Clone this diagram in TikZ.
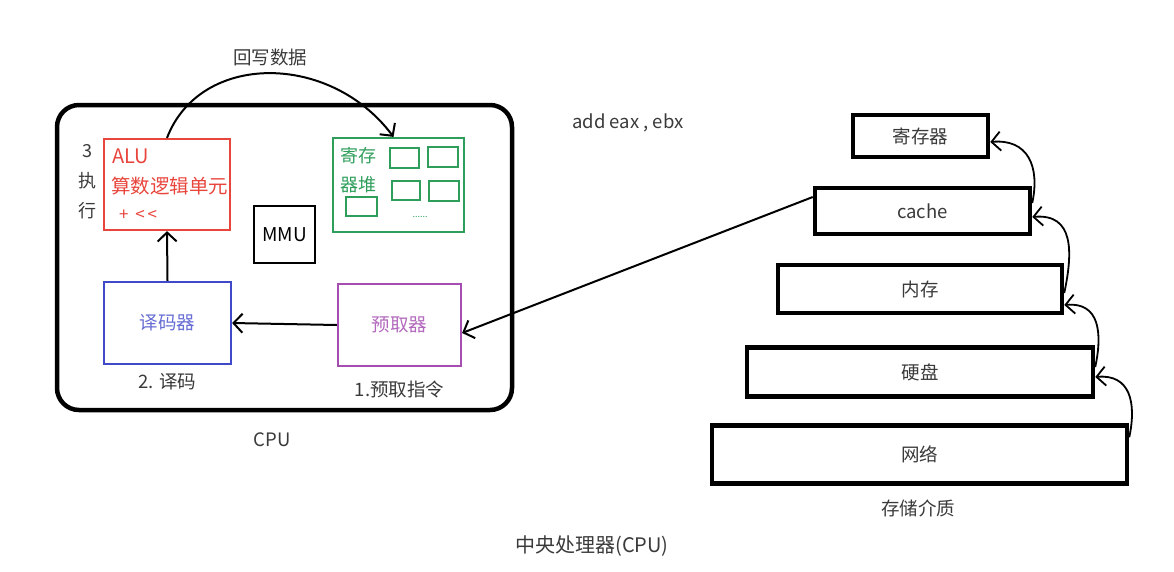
\documentclass[tikz,border=0pt]{standalone}
\usepackage{fontspec}
\setmainfont{Noto Sans CJK SC}
\usetikzlibrary{arrows.meta, positioning}
\definecolor{alured}{HTML}{E8453C}
\definecolor{reggreen}{HTML}{2F9E5B}
\definecolor{decblue}{HTML}{4049C8}
\definecolor{prepurple}{HTML}{A54DB0}
\definecolor{txtgray}{HTML}{3A3A3A}
\newcommand{\lblfont}{\fontsize{18.5}{22}\selectfont}
\tikzset{
  unit/.style  = {draw, line width=2.2pt, inner sep=0pt},
  cell/.style  = {draw=reggreen, line width=2.2pt, inner sep=0pt},
  tier/.style  = {draw, line width=4.5pt, inner sep=0pt, font=\lblfont, text=txtgray},
  lbl/.style   = {font=\lblfont, text=txtgray, inner sep=1pt},
  flow/.style  = {-{Straight Barb[length=9pt, width=19pt]}, line width=2pt},
  climb/.style = {flow, line width=1.8pt, out=78, in=5, looseness=1.3}
}
\begin{document}
\begin{tikzpicture}[x=1pt, y=-1pt]
  \useasboundingbox (0,0) rectangle (1174,571);

  % CPU
  \node[draw, line width=4.5pt, rounded corners=22pt, minimum width=455pt, minimum height=305pt] (cpu) at (284.5,257.5) {};
  \node[unit, draw=alured, minimum width=126pt, minimum height=91pt] (alu) at (167,184.5) {};
  \node[lbl, text=alured, anchor=west, font=\fontsize{20}{24}\selectfont] (aluname) at (111,156) {ALU};
  \node[lbl, text=alured, anchor=west, font=\fontsize{19.5}{24}\selectfont] (alutext) at (110,186) {算数逻辑单元};
  \node[lbl, text=alured, anchor=west, font=\fontsize{17}{20}\selectfont] (aluops) at (118,215) {+ \,{<}\,{<}};
  \node[lbl, align=center, font=\fontsize{18}{30}\selectfont] (step3) at (87,182) {3\\执\\行};

  \node[unit, draw=reggreen, minimum width=131pt, minimum height=94pt] (reg) at (398.5,185) {};
  \node[lbl, text=reggreen, align=center, font=\fontsize{18}{29}\selectfont] (regname) at (358,170) {寄存\\器堆};
  \node[cell, minimum width=29pt, minimum height=20pt] (c1) at (404.5,158) {};
  \node[cell, minimum width=30pt, minimum height=20pt] (c2) at (443,157) {};
  \node[cell, minimum width=28pt, minimum height=19pt] (c3) at (406,190.5) {};
  \node[cell, minimum width=30pt, minimum height=20pt] (c4) at (444,191) {};
  \node[cell, minimum width=31pt, minimum height=19pt] (c5) at (361.5,206.5) {};
  \node[lbl, text=reggreen, font=\fontsize{9}{10}\selectfont] (cdots) at (420,217) {......};

  \node[unit, minimum width=61pt, minimum height=57pt, font=\fontsize{19}{22}\selectfont] (mmu) at (284.5,234.5) {MMU};

  \node[unit, draw=decblue, text=decblue!80, font=\lblfont, minimum width=127pt, minimum height=82pt] (dec) at (167.5,323) {译码器};
  \node[unit, draw=prepurple, text=prepurple!85, font=\lblfont, minimum width=123pt, minimum height=82pt] (pre) at (399.5,325) {\raisebox{-4pt}{预取器}};
  \node[lbl, below=7pt of dec] (decstep) {2. 译码};
  \node[lbl, below=13pt of pre] (prestep) {1.预取指令};

  \draw[flow] (dec.north) -- (alu.south);
  \draw[flow] (pre.west) -- (dec.east);
  \draw[flow] (alu.north) .. controls (200,52) and (330,52) .. ([xshift=-5pt]reg.north);
  \node[lbl] (wb) at (270,57) {回写数据};

  \node[lbl] (cpulbl) at (272,440) {CPU};
  \node[lbl] (instr) at (628,123) {add eax , ebx};

  % storage
  \node[tier, minimum width=135pt, minimum height=42pt] (r0) at (920.5,136) {寄存器};
  \node[tier, minimum width=215pt, minimum height=46pt] (cache) at (922.5,211) {cache};
  \node[tier, minimum width=284pt, minimum height=48pt] (mem) at (920,289) {内存};
  \node[tier, minimum width=346pt, minimum height=49pt] (hdd) at (920,372) {硬盘};
  \node[tier, minimum width=415pt, minimum height=58pt] (net) at (919.5,454.5) {网络};
  \node[lbl] (media) at (918,508) {存储介质};

  \draw[climb] ([yshift=-14pt]net.north east) to ([yshift=-5pt]hdd.east);
  \draw[climb] ([yshift=5pt]hdd.east) to ([yshift=-16pt]mem.east);
  \draw[climb] ([yshift=-4pt]mem.east) to ([yshift=-6pt]cache.east);
  \draw[climb] ([yshift=8pt]cache.east) to ([yshift=-6pt]r0.east);

  \draw[flow] ([yshift=14pt]cache.west) -- ([yshift=-8pt]pre.east);

  \node[lbl, font=\fontsize{20}{24}\selectfont] (title) at (592,546) {中央处理器(CPU)};
\end{tikzpicture}
\end{document}
